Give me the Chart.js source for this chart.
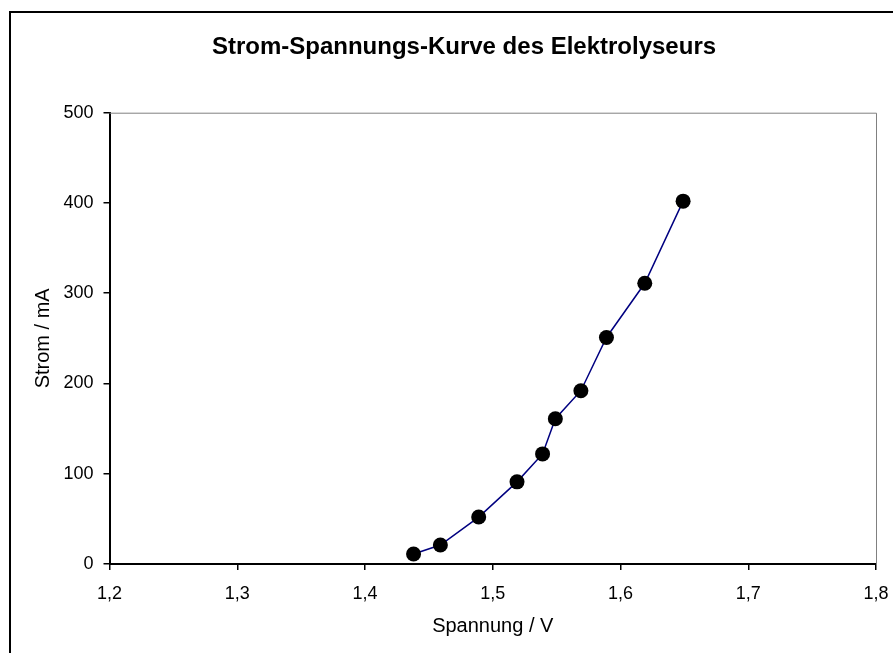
<!DOCTYPE html>
<html>
<head>
<meta charset="utf-8">
<script src="https://cdn.jsdelivr.net/npm/chart.js@4"></script>
<style>
    html, body { margin: 0; padding: 0; background: #fff; }
    #wrap { width: 893px; height: 653px; }
</style>
</head>
<body>
<div id="wrap"><canvas id="myChart" width="893" height="653"></canvas></div>
<script>
const spannung = [1.438, 1.459, 1.489, 1.519, 1.539, 1.549, 1.569, 1.589, 1.619, 1.649];
const strom = [11, 21, 52, 91, 122, 161, 192, 251, 311, 402];
const xTicks = [1.2, 1.3, 1.4, 1.5, 1.6, 1.7, 1.8];
const yTicks = [0, 100, 200, 300, 400, 500];

const points = spannung.map((x, i) => {
    return {x: x, y: strom[i]};
});

// outer frame and grey plot border
const frame = {
    id: 'frame',
    beforeDraw(chart) {
        const c = chart.ctx;
        c.save();
        c.fillStyle = '#fff';
        c.fillRect(0, 0, chart.width, chart.height);
        c.strokeStyle = '#000';
        c.lineWidth = 2;
        c.strokeRect(10, 12, 900, 700);
        c.restore();
    },
    afterDatasetsDraw(chart) {
        const a = chart.chartArea;
        const c = chart.ctx;
        c.save();
        c.strokeStyle = '#808080';
        c.lineWidth = 1;
        c.beginPath();
        c.moveTo(a.left, a.top + 0.5);
        c.lineTo(a.right + 0.5, a.top + 0.5);
        c.lineTo(a.right + 0.5, a.bottom);
        c.stroke();
        c.restore();
    }
};

const ctx = document.getElementById('myChart');

new Chart(ctx, {
    type: 'line',
    data: {
        datasets: [
            {
                label: 'Strom',
                data: points,
                borderColor: '#000080',
                borderWidth: 1.5,
                backgroundColor: '#000',
                pointBackgroundColor: '#000',
                pointBorderColor: '#000',
                pointRadius: 7.5,
                pointBorderWidth: 0,
                tension: 0,
                clip: false,
            },
        ],
    },
    options: {
        responsive: false,
        animation: false,
        layout: {
            padding: {left: 52, right: 17, top: 0, bottom: 15}
        },
        plugins: {
            legend: {display: false},
            tooltip: {enabled: false},
            title: {
                display: true,
                text: 'Strom-Spannungs-Kurve des Elektrolyseurs',
                color: '#000',
                font: {family: 'Arial, "Liberation Sans", sans-serif', size: 24, weight: 'bold'},
                padding: {top: 33, bottom: 50.9},
            },
        },
        scales: {
            x: {
                type: 'linear',
                min: 1.2,
                max: 1.8,
                afterBuildTicks: (scale) => {
                    scale.ticks = xTicks.map(v => ({value: v}));
                },
                afterFit: (scale) => {
                    scale.height = 74;
                    scale.paddingLeft = 0;
                    scale.paddingRight = 0;
                },
                ticks: {
                    color: '#000',
                    padding: 13,
                    maxRotation: 0,
                    font: {family: 'Arial, "Liberation Sans", sans-serif', size: 18},
                    callback: (v) => v.toFixed(1).replace('.', ','),
                },
                grid: {
                    display: true,
                    drawOnChartArea: false,
                    drawTicks: true,
                    tickLength: 6,
                    color: '#000',
                    lineWidth: 1.5,
                },
                border: {display: true, color: '#000', width: 2},
                title: {
                    display: true,
                    text: 'Spannung / V',
                    color: '#000',
                    padding: 0,
                    font: {family: 'Arial, "Liberation Sans", sans-serif', size: 20},
                },
            },
            y: {
                type: 'linear',
                min: 0,
                max: 500,
                afterBuildTicks: (scale) => {
                    scale.ticks = yTicks.map(v => ({value: v}));
                },
                afterFit: (scale) => {
                    scale.width = 57.5;
                },
                ticks: {
                    color: '#000',
                    padding: 10,
                    font: {family: 'Arial, "Liberation Sans", sans-serif', size: 18},
                },
                grid: {
                    display: true,
                    drawOnChartArea: false,
                    drawTicks: true,
                    tickLength: 6,
                    color: '#000',
                    lineWidth: 1.5,
                },
                border: {display: true, color: '#000', width: 2},
                title: {
                    display: true,
                    text: 'Strom / mA',
                    color: '#000',
                    padding: {top: -21, bottom: 0},
                    font: {family: 'Arial, "Liberation Sans", sans-serif', size: 20},
                },
            },
        },
    },
    plugins: [frame],
});
</script>
</body>
</html>
